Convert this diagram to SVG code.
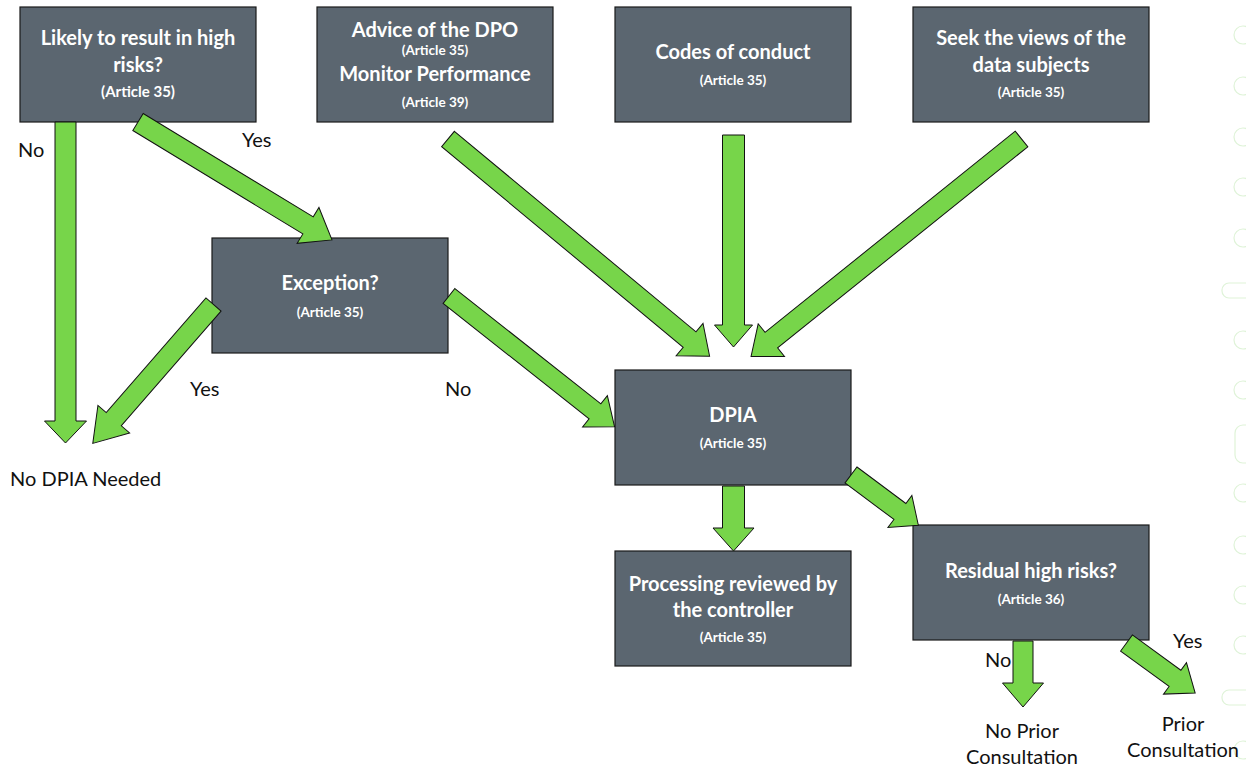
<svg xmlns="http://www.w3.org/2000/svg" width="1246" height="768" viewBox="0 0 1246 768">
<style>
.box{fill:#5B6670;stroke:#1a1a1a;stroke-width:1.2}
.t{font-family:Lato,"Liberation Sans",sans-serif;font-weight:bold;font-size:20px;fill:#ffffff;text-anchor:middle}
.a{font-family:Lato,"Liberation Sans",sans-serif;font-weight:bold;font-size:13.5px;fill:#ffffff;text-anchor:middle}
.l{font-family:Lato,"Liberation Sans",sans-serif;font-size:20px;fill:#111111}
.arr{fill:#77D54A;stroke:#111111;stroke-width:1}
.deco{fill:none;stroke:#dff3d8;stroke-width:1.2}
</style>
<rect width="1246" height="768" fill="#ffffff"/>
<g id="decor">
<circle class="deco" cx="1243" cy="35" r="9"/>
<circle class="deco" cx="1243" cy="86" r="9"/>
<circle class="deco" cx="1243" cy="137" r="9"/>
<circle class="deco" cx="1243" cy="187" r="9"/>
<circle class="deco" cx="1243" cy="238" r="9"/>
<rect class="deco" x="1222" y="283" width="40" height="15" rx="7"/>
<circle class="deco" cx="1243" cy="340" r="9"/>
<circle class="deco" cx="1243" cy="390" r="9"/>
<rect class="deco" x="1235" y="425" width="30" height="38" rx="8"/>
<circle class="deco" cx="1243" cy="493" r="9"/>
<circle class="deco" cx="1243" cy="545" r="9"/>
<circle class="deco" cx="1243" cy="595" r="9"/>
<circle class="deco" cx="1243" cy="645" r="9"/>
<rect class="deco" x="1222" y="690" width="40" height="15" rx="7"/>
<circle class="deco" cx="1243" cy="750" r="9"/>
</g>
<g id="n-likely">
<rect class="box" x="20" y="7" width="236" height="115"/>
<text class="t" x="138" y="45">Likely to result in high</text>
<text class="t" x="138" y="72">risks?</text>
<text class="a" x="138" y="97" style="font-size:15px">(Article 35)</text>
</g>
<g id="n-advice">
<rect class="box" x="317" y="7" width="236" height="115"/>
<text class="t" x="435" y="37">Advice of the DPO</text>
<text class="a" x="435" y="55">(Article 35)</text>
<text class="t" x="435" y="81">Monitor Performance</text>
<text class="a" x="435" y="107">(Article 39)</text>
</g>
<g id="n-codes">
<rect class="box" x="615" y="7" width="236" height="115"/>
<text class="t" x="733" y="59">Codes of conduct</text>
<text class="a" x="733" y="85">(Article 35)</text>
</g>
<g id="n-seek">
<rect class="box" x="913" y="7" width="236" height="115"/>
<text class="t" x="1031" y="45">Seek the views of the</text>
<text class="t" x="1031" y="72">data subjects</text>
<text class="a" x="1031" y="97">(Article 35)</text>
</g>
<g id="n-exception">
<rect class="box" x="212" y="238" width="236" height="115"/>
<text class="t" x="330" y="290">Exception?</text>
<text class="a" x="330" y="317">(Article 35)</text>
</g>
<g id="n-dpia">
<rect class="box" x="615" y="370" width="236" height="115"/>
<text class="t" x="733" y="422">DPIA</text>
<text class="a" x="733" y="448">(Article 35)</text>
</g>
<g id="n-processing">
<rect class="box" x="615" y="551" width="236" height="115"/>
<text class="t" x="733" y="591">Processing reviewed by</text>
<text class="t" x="733" y="617">the controller</text>
<text class="a" x="733" y="642">(Article 35)</text>
</g>
<g id="n-residual">
<rect class="box" x="913" y="525" width="236" height="115"/>
<text class="t" x="1031" y="578">Residual high risks?</text>
<text class="a" x="1031" y="604">(Article 36)</text>
</g>
<g id="connectors">
<path class="arr" transform="translate(65.5,122) rotate(90)" d="M0,-10.5 H299 V-21 L321,0 L299,21 V10.5 H0 Z"/>
<path class="arr" transform="translate(138,122) rotate(31.3)" d="M0,-10 H199 V-21 L227,0 L199,21 V10 H0 Z"/>
<path class="arr" transform="translate(213.5,304.5) rotate(131)" d="M0,-10 H152 V-21 L184,0 L152,21 V10 H0 Z"/>
<path class="arr" transform="translate(449,296) rotate(38.3)" d="M0,-9.5 H186 V-20 L211,0 L186,20 V9.5 H0 Z"/>
<path class="arr" transform="translate(448,139) rotate(39.7)" d="M0,-10 H314 V-21 L340,0 L314,21 V10 H0 Z"/>
<path class="arr" transform="translate(733.5,135) rotate(90)" d="M0,-11 H190 V-19 L212,0 L190,19 V11 H0 Z"/>
<path class="arr" transform="translate(1021.5,139) rotate(141.2)" d="M0,-10 H321 V-21 L347,0 L321,21 V10 H0 Z"/>
<path class="arr" transform="translate(733.5,486) rotate(90)" d="M0,-11 H42 V-20.5 L65,0 L42,20.5 V11 H0 Z"/>
<path class="arr" transform="translate(851,475) rotate(36.7)" d="M0,-10 H61 V-20 L84,0 L61,20 V10 H0 Z"/>
<path class="arr" transform="translate(1023,641) rotate(90)" d="M0,-10 H42 V-20.5 L66,0 L42,20.5 V10 H0 Z"/>
<path class="arr" transform="translate(1126.5,643) rotate(36.1)" d="M0,-10 H60 V-19.5 L85,0 L60,19.5 V10 H0 Z"/>
</g>
<g id="labels">
<text class="l" x="18" y="157">No</text>
<text class="l" x="242" y="147">Yes</text>
<text class="l" x="190" y="396">Yes</text>
<text class="l" x="445" y="396">No</text>
<text class="l" x="10" y="486">No DPIA Needed</text>
<text class="l" x="985" y="667">No</text>
<text class="l" x="1173" y="648">Yes</text>
<text class="l" x="1022" y="738" text-anchor="middle">No Prior</text>
<text class="l" x="1022" y="764" text-anchor="middle">Consultation</text>
<text class="l" x="1183" y="731" text-anchor="middle">Prior</text>
<text class="l" x="1183" y="757" text-anchor="middle">Consultation</text>
</g>
</svg>
